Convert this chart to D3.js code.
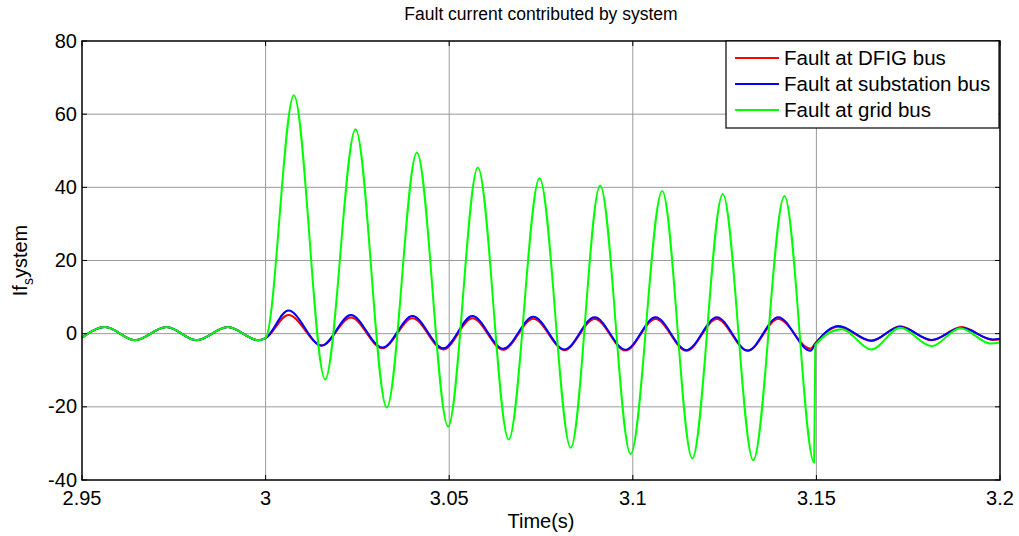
<!DOCTYPE html>
<html>
<head>
<meta charset="utf-8">
<script src="https://cdn.jsdelivr.net/npm/d3@7"></script>
<style>
  body { margin: 0; background: #fff; }
  svg { display: block; font-family: "Liberation Sans", Arial, sans-serif; }
</style>
</head>
<body>
<svg id="chart" width="1019" height="536"></svg>
<script>
// ticks
const xTicks = [2.95, 3, 3.05, 3.1, 3.15, 3.2];
const xTickLabels = ["2.95", "3", "3.05", "3.1", "3.15", "3.2"];
const yTicks = [-40, -20, 0, 20, 40, 60, 80];

// steady state before the fault (same for all three cases)
const preTime = [2.95, 2.9563, 2.9644, 2.9730, 2.9812, 2.9897, 2.9980, 3.0];
const preValue = [-1.1, 1.8, -1.8, 1.8, -1.8, 1.8, -1.8, -1.2];

// fault at DFIG bus / substation bus (peaks and troughs)
const busTime = [3.0062, 3.0153, 3.0232, 3.0318, 3.0400, 3.0484, 3.0563, 3.0647, 3.0729,
  3.0814, 3.0896, 3.0980, 3.1062, 3.1146, 3.1229, 3.1313, 3.1396, 3.1484, 3.1497,
  3.1560, 3.1650, 3.1728, 3.1814, 3.1895, 3.1980, 3.2];
const dfigValue = [5.1, -3.2, 4.4, -4.0, 4.2, -4.3, 4.2, -4.4, 4.1, -4.5, 4.0, -4.6, 4.0,
  -4.7, 4.0, -4.7, 4.0, -4.1, -2.6, 1.9, -2.0, 2.0, -1.8, 1.8, -1.7, -1.6];
const substationValue = [6.3, -3.3, 5.1, -3.8, 4.8, -4.0, 4.8, -4.1, 4.6, -4.3, 4.5, -4.4, 4.5,
  -4.5, 4.5, -4.6, 4.5, -4.7, -2.8, 2.1, -1.9, 1.9, -1.7, 1.6, -1.6, -1.4];

// fault at grid bus
const gridTime = [3.0077, 3.0162, 3.0245, 3.0330, 3.0412, 3.0497, 3.0578, 3.0662, 3.0746,
  3.0831, 3.0911, 3.0994, 3.1080, 3.1162, 3.1245, 3.1328, 3.1413, 3.1494, 3.1497,
  3.1569, 3.1650, 3.1728, 3.1814, 3.1892, 3.1975, 3.2];
const gridValue = [65.2, -12.5, 55.9, -20.2, 49.5, -25.4, 45.4, -28.9, 42.5, -31.2, 40.5,
  -32.9, 39.0, -34.1, 38.2, -34.6, 37.6, -35.2, -3.1, 1.2, -4.3, 1.6, -3.4, 1.5, -2.7, -2.4];

const seriesNames = ["Fault at DFIG bus", "Fault at substation bus", "Fault at grid bus"];
const seriesColors = ["#ff0000", "#0000ff", "#00ff00"];

const zip = (ts, vs) => ts.map((t, i) => ({ t: t, v: vs[i] }));
const pre = zip(preTime, preValue);
const series = [
  pre.concat(zip(busTime, dfigValue)),
  pre.concat(zip(busTime, substationValue)),
  pre.concat(zip(gridTime, gridValue))
];

const margin = { left: 82, top: 41, right: 19, bottom: 56 };
const svg = d3.select("#chart");
const width = +svg.attr("width") - margin.left - margin.right;
const height = +svg.attr("height") - margin.top - margin.bottom;

const x = d3.scaleLinear().domain([2.95, 3.2]).range([0, width]);
const y = d3.scaleLinear().domain([-40, 80]).range([height, 0]);

const g = svg.append("g").attr("transform", `translate(${margin.left},${margin.top})`);

// grid
g.append("g").selectAll("line").data(xTicks.slice(1, -1)).join("line")
  .attr("x1", d => x(d)).attr("x2", d => x(d))
  .attr("y1", 0).attr("y2", height)
  .attr("stroke", "#9a9a9a").attr("stroke-width", 1);
g.append("g").selectAll("line").data(yTicks.slice(1, -1)).join("line")
  .attr("y1", d => y(d)).attr("y2", d => y(d))
  .attr("x1", 0).attr("x2", width)
  .attr("stroke", "#9a9a9a").attr("stroke-width", 1);

// curves
const line = d3.line()
  .x(d => x(d.t))
  .y(d => y(d.v))
  .curve(d3.curveMonotoneX);

g.append("g").selectAll("path").data(series).join("path")
  .attr("d", d => line(d))
  .attr("fill", "none")
  .attr("stroke", (d, i) => seriesColors[i])
  .attr("stroke-width", 2)
  .attr("stroke-linejoin", "round");

// inward ticks on all four sides
const tk = 5;
const ticks = g.append("g").attr("stroke", "#000").attr("stroke-width", 1);
xTicks.forEach(d => {
  ticks.append("line").attr("x1", x(d)).attr("x2", x(d)).attr("y1", height).attr("y2", height - tk);
  ticks.append("line").attr("x1", x(d)).attr("x2", x(d)).attr("y1", 0).attr("y2", tk);
});
yTicks.forEach(d => {
  ticks.append("line").attr("y1", y(d)).attr("y2", y(d)).attr("x1", 0).attr("x2", tk);
  ticks.append("line").attr("y1", y(d)).attr("y2", y(d)).attr("x1", width).attr("x2", width - tk);
});

// box
g.append("rect")
  .attr("width", width).attr("height", height)
  .attr("fill", "none").attr("stroke", "#000").attr("stroke-width", 1.5);

// tick labels
g.append("g").selectAll("text").data(xTicks).join("text")
  .attr("x", d => x(d)).attr("y", height + 25)
  .attr("text-anchor", "middle")
  .attr("font-size", 20)
  .text((d, i) => xTickLabels[i]);
g.append("g").selectAll("text").data(yTicks).join("text")
  .attr("x", -5).attr("y", d => y(d) + 6.5)
  .attr("text-anchor", "end")
  .attr("font-size", 20)
  .text(d => d);

// title and labels
svg.append("text")
  .attr("x", margin.left + width / 2).attr("y", 20)
  .attr("text-anchor", "middle").attr("font-size", 17.5)
  .text("Fault current contributed by system");
svg.append("text")
  .attr("x", margin.left + width / 2).attr("y", 528)
  .attr("text-anchor", "middle").attr("font-size", 20)
  .text("Time(s)");

const yl = svg.append("text")
  .attr("transform", `translate(27,${margin.top + height / 2}) rotate(-90)`)
  .attr("text-anchor", "middle").attr("font-size", 20);
yl.append("tspan").text("If");
yl.append("tspan").attr("font-size", 14).attr("dy", 6).text("s");
yl.append("tspan").attr("dy", -6).text("ystem");

// legend
const lg = svg.append("g").attr("transform", "translate(726,41)");
lg.append("rect").attr("width", 273).attr("height", 87)
  .attr("fill", "#fff").attr("stroke", "#000").attr("stroke-width", 1.2);
seriesNames.forEach((name, i) => {
  const yy = 17 + i * 26;
  lg.append("line").attr("x1", 9).attr("x2", 53).attr("y1", yy).attr("y2", yy)
    .attr("stroke", seriesColors[i]).attr("stroke-width", 2);
  lg.append("text").attr("x", 58).attr("y", yy + 7)
    .attr("font-size", 20.5).text(name);
});
</script>
</body>
</html>
